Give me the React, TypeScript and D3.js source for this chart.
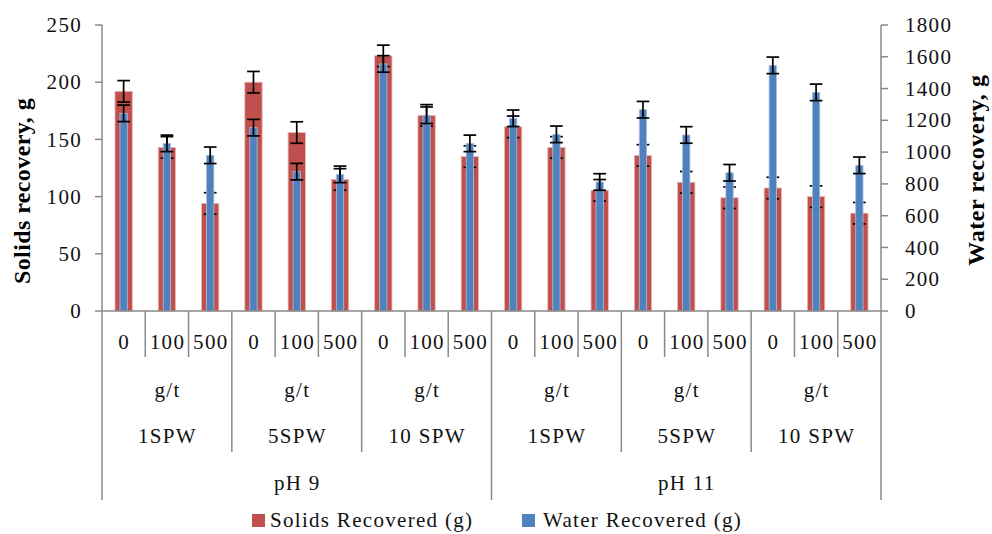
import React from "react";
import * as d3 from "d3";

const phLevels = ["pH 9", "pH 11"];
const spwLevels = ["1SPW", "5SPW", "10 SPW"];
const doseLevels = ["0", "100", "500"];
const doseUnit = "g/t";

const solids = [192, 143, 94, 200, 156, 115, 223, 171, 135, 161, 143, 105.5, 136, 112.5, 99, 107.5, 100, 85.5];
const water = [1244, 1055, 980, 1154, 877, 860, 1555, 1232, 1055, 1213, 1112, 812, 1267, 1108, 870, 1546, 1376, 917];
const solidsErr = [9.4, 9.4, 9.4, 9.4, 9.4, 9.4, 9.4, 9.4, 9.4, 9.4, 9.4, 9.4, 9.4, 9.4, 9.4, 9.4, 9.4, 9.4];
const waterErr = [52, 52, 52, 52, 52, 52, 52, 52, 52, 52, 52, 52, 52, 52, 52, 52, 52, 52];

const leftTicks = [0, 50, 100, 150, 200, 250];
const rightTicks = [0, 200, 400, 600, 800, 1000, 1200, 1400, 1600, 1800];

const seriesNames = ["Solids Recovered (g)", "Water Recovered (g)"];
const leftTitle = "Solids recovery, g";
const rightTitle = "Water recovery, g";

const RED = "#C0504D";
const BLUE = "#4F81BD";
const AXIS = "#898989";
const FONT = "'Liberation Serif', 'Times New Roman', serif";

export default function App() {
  const W = 992, H = 534;
  const left = 102, right = 881, top = 25, bottom = 311;

  const cats: { ph: string; spw: string; dose: string; i: number }[] = [];
  phLevels.forEach((ph) =>
    spwLevels.forEach((spw) =>
      doseLevels.forEach((dose) => cats.push({ ph, spw, dose, i: cats.length }))
    )
  );
  const ids = cats.map((c) => String(c.i));

  const xOuter = d3.scaleBand().domain(ids).range([left, right]).padding(0);
  const xRed = d3.scaleBand().domain(ids).range([left, right]).paddingInner(0.6).paddingOuter(0.3);
  const xBlue = d3.scaleBand().domain(ids).range([left, right]).paddingInner(0.83).paddingOuter(0.415);
  const yL = d3.scaleLinear().domain([0, 250]).range([bottom, top]);
  const yR = d3.scaleLinear().domain([0, 1800]).range([bottom, top]);

  const step = xOuter.step();
  const capW = 12.7;
  const txt = { fontFamily: FONT, fontSize: 21, letterSpacing: 1.3, fill: "#111" } as const;

  const errBar = (cx: number, y1: number, y2: number, key: string) => (
    <g key={key} stroke="#000" strokeWidth={1.7}>
      <line x1={cx} x2={cx} y1={y1} y2={y2} />
      <line x1={cx - capW / 2} x2={cx + capW / 2} y1={y1} y2={y1} />
      <line x1={cx - capW / 2} x2={cx + capW / 2} y1={y2} y2={y2} />
    </g>
  );

  const nDose = doseLevels.length;
  const nGroup = spwLevels.length * nDose;

  return (
    <svg width={W} height={H} style={{ position: "absolute", left: 0, top: 0, background: "#fff" }}>
      {/* red bars */}
      {cats.map((c) => (
        <rect key={"r" + c.i} x={xRed(String(c.i))} y={yL(solids[c.i])} width={xRed.bandwidth()}
          height={yL(0) - yL(solids[c.i])} fill={RED} stroke="#E8B7B6" strokeWidth={0.8} />
      ))}
      {cats.map((c) => {
        const cx = (xRed(String(c.i)) as number) + xRed.bandwidth() / 2;
        return errBar(cx, yL(solids[c.i] + solidsErr[c.i]), yL(solids[c.i] - solidsErr[c.i]), "re" + c.i);
      })}
      {/* blue bars */}
      {cats.map((c) => (
        <rect key={"b" + c.i} x={xBlue(String(c.i))} y={yR(water[c.i])} width={xBlue.bandwidth()}
          height={yR(0) - yR(water[c.i])} fill={BLUE} stroke="#A9C1E0" strokeWidth={0.8} />
      ))}
      {cats.map((c) => {
        const cx = (xBlue(String(c.i)) as number) + xBlue.bandwidth() / 2;
        return errBar(cx, yR(water[c.i] + waterErr[c.i]), yR(water[c.i] - waterErr[c.i]), "be" + c.i);
      })}

      {/* left axis */}
      <line x1={left} x2={left} y1={top} y2={bottom} stroke={AXIS} strokeWidth={1.5} />
      {leftTicks.map((t) => (
        <g key={"lt" + t}>
          <line x1={left - 7} x2={left} y1={yL(t)} y2={yL(t)} stroke={AXIS} strokeWidth={1.5} />
          <text x={82} y={yL(t)} dy="0.34em" textAnchor="end" {...txt}>{t}</text>
        </g>
      ))}
      {/* right axis */}
      <line x1={right} x2={right} y1={top} y2={bottom} stroke={AXIS} strokeWidth={1.5} />
      {rightTicks.map((t) => (
        <g key={"rt" + t}>
          <line x1={right} x2={right + 7} y1={yR(t)} y2={yR(t)} stroke={AXIS} strokeWidth={1.5} />
          <text x={905} y={yR(t)} dy="0.34em" textAnchor="start" {...txt}>{t}</text>
        </g>
      ))}

      {/* category axis */}
      <line x1={left} x2={right} y1={bottom} y2={bottom} stroke={AXIS} strokeWidth={1.5} />
      {d3.range(cats.length + 1).map((k) => {
        const x = left + k * step;
        const len = k % (nGroup * 1) === 0 && k % (cats.length / phLevels.length) === 0 ? 500 : k % nDose === 0 ? 452 : 357;
        return <line key={"d" + k} x1={x} x2={x} y1={bottom} y2={len} stroke={AXIS} strokeWidth={1.5} />;
      })}
      {cats.map((c) => (
        <text key={"dl" + c.i} x={(xOuter(String(c.i)) as number) + step / 2 + 0.6} y={349} textAnchor="middle" {...txt}>{c.dose}</text>
      ))}
      {d3.range(phLevels.length * spwLevels.length).map((g) => {
        const cx = left + (g * nDose + nDose / 2) * step + 0.6;
        return (
          <g key={"g" + g}>
            <text x={cx} y={397} textAnchor="middle" {...txt}>{doseUnit}</text>
            <text x={cx} y={443} textAnchor="middle" {...txt}>{spwLevels[g % spwLevels.length]}</text>
          </g>
        );
      })}
      {phLevels.map((p, k) => (
        <text key={"ph" + k} x={left + (k * nGroup + nGroup / 2) * step + 0.6} y={490} textAnchor="middle" {...txt}>{p}</text>
      ))}

      {/* axis titles */}
      <text transform={`translate(30,191) rotate(-90)`} textAnchor="middle" fontFamily={FONT} fontWeight="bold" fontSize={24} letterSpacing={0.4} fill="#000">{leftTitle}</text>
      <text transform={`translate(984,170) rotate(-90)`} textAnchor="middle" fontFamily={FONT} fontWeight="bold" fontSize={24} letterSpacing={0.6} fill="#000">{rightTitle}</text>

      {/* legend */}
      <rect x={252} y={514} width={13} height={13} fill={RED} />
      <text x={270} y={527} {...txt}>{seriesNames[0]}</text>
      <rect x={522} y={514} width={13} height={13} fill={BLUE} />
      <text x={543} y={527} {...txt}>{seriesNames[1]}</text>
    </svg>
  );
}
